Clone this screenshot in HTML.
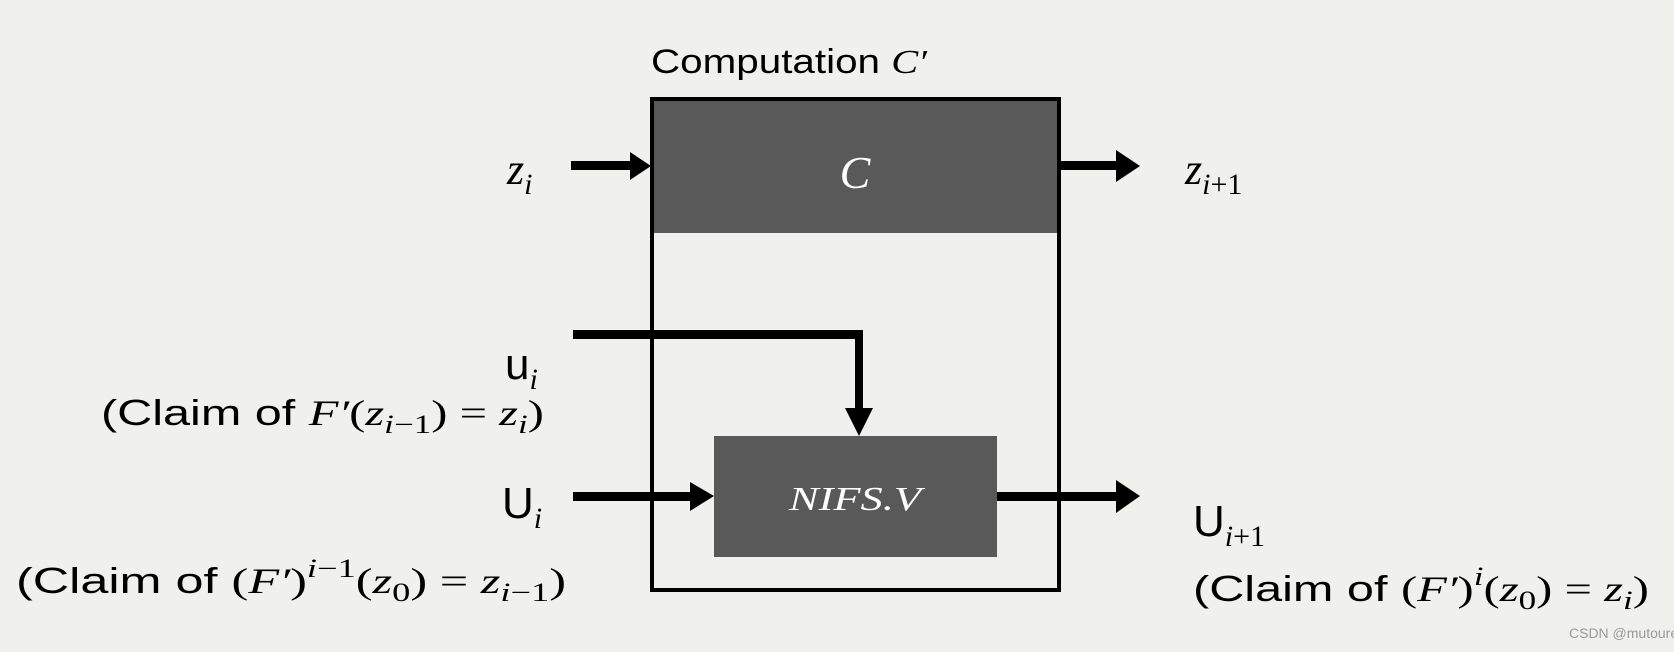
<!DOCTYPE html>
<html><head><meta charset="utf-8"><style>
html,body{margin:0;padding:0;background:#f0f0ec;}
svg{display:block}
.t{font-family:"Liberation Sans",sans-serif;fill:#000;}
.m{font-family:"Liberation Serif",serif;font-style:italic;}
.r{font-family:"Liberation Serif",serif;font-style:normal;}
</style></head><body>
<svg width="1674" height="652" viewBox="0 0 1674 652" xmlns="http://www.w3.org/2000/svg">
<rect width="1674" height="652" fill="#f0f0ec"/>
<!-- outer box -->
<rect x="652" y="99" width="407" height="491" fill="none" stroke="#000" stroke-width="4"/>
<rect x="654" y="101" width="403" height="132" fill="#595959"/>
<rect x="714" y="436" width="283" height="121" fill="#595959"/>
<text x="855" y="188" class="m" font-size="46" fill="#fff" text-anchor="middle">C</text>
<text x="855" y="510" class="m" font-size="34" fill="#fff" text-anchor="middle" textLength="132" lengthAdjust="spacingAndGlyphs">NIFS.V</text>
<!-- arrows -->
<g fill="#000">
<rect x="571" y="161" width="62" height="9"/><polygon points="630,152 651,166 630,180"/>
<rect x="1059" y="161" width="60" height="9"/><polygon points="1116,150 1140,166 1116,182"/>
<rect x="573" y="330" width="290" height="9"/>
<rect x="855" y="330" width="8" height="85"/><polygon points="845,408 859,436 873,408"/>
<rect x="573" y="492" width="120" height="9"/><polygon points="690,482 714,496 690,511"/>
<rect x="997" y="492" width="122" height="9"/><polygon points="1116,480 1140,496 1116,513"/>
</g>
<!-- labels -->
<text x="651" y="73" class="t" font-size="34" textLength="276" lengthAdjust="spacingAndGlyphs">Computation <tspan class="m">C′</tspan></text>
<text x="507" y="184" class="m" font-size="44">z<tspan font-size="30" dy="10">i</tspan></text>
<text x="1185" y="184" class="m" font-size="44">z<tspan font-size="30" dy="10">i<tspan class="r">+1</tspan></tspan></text>
<text x="505" y="379" class="t" font-size="44">u<tspan class="m" font-size="30" dy="10">i</tspan></text>
<text x="101" y="425" class="t" font-size="36" textLength="443" lengthAdjust="spacingAndGlyphs">(Claim of <tspan class="m">F′</tspan><tspan class="r">(</tspan><tspan class="m">z</tspan><tspan class="m" font-size="26" dy="8">i</tspan><tspan class="r" font-size="26">−1</tspan><tspan class="r" dy="-8">) = </tspan><tspan class="m">z</tspan><tspan class="m" font-size="26" dy="8">i</tspan><tspan class="r" dy="-8">)</tspan></text>
<text x="502" y="518" class="t" font-size="44">U<tspan class="m" font-size="30" dy="10">i</tspan></text>
<text x="16" y="593" class="t" font-size="36" textLength="550" lengthAdjust="spacingAndGlyphs">(Claim of <tspan class="r">(</tspan><tspan class="m">F′</tspan><tspan class="r">)</tspan><tspan class="m" font-size="26" dy="-16">i</tspan><tspan class="r" font-size="26">−1</tspan><tspan class="r" dy="16">(</tspan><tspan class="m">z</tspan><tspan class="r" font-size="26" dy="8">0</tspan><tspan class="r" dy="-8">) = </tspan><tspan class="m">z</tspan><tspan class="m" font-size="26" dy="8">i</tspan><tspan class="r" font-size="26">−1</tspan><tspan class="r" dy="-8">)</tspan></text>
<text x="1193" y="536" class="t" font-size="44">U<tspan class="m" font-size="30" dy="10">i</tspan><tspan class="r" font-size="30">+1</tspan></text>
<text x="1193" y="601" class="t" font-size="36" textLength="456" lengthAdjust="spacingAndGlyphs">(Claim of <tspan class="r">(</tspan><tspan class="m">F′</tspan><tspan class="r">)</tspan><tspan class="m" font-size="26" dy="-16">i</tspan><tspan class="r" dy="16">(</tspan><tspan class="m">z</tspan><tspan class="r" font-size="26" dy="8">0</tspan><tspan class="r" dy="-8">) = </tspan><tspan class="m">z</tspan><tspan class="m" font-size="26" dy="8">i</tspan><tspan class="r" dy="-8">)</tspan></text>
<text x="1569" y="638" class="t" font-size="14" fill="#999" style="fill:#9a9a9a">CSDN @mutourend</text>
</svg>
</body></html>
